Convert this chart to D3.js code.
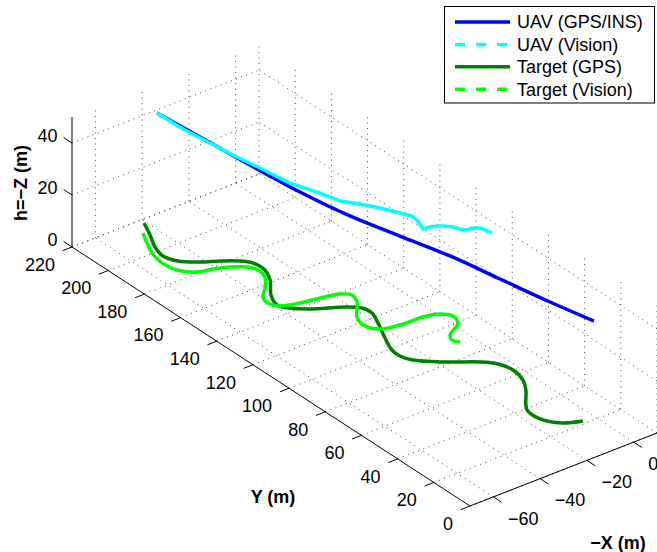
<!DOCTYPE html>
<html><head><meta charset="utf-8">
<script src="https://cdn.jsdelivr.net/npm/d3@7"></script>
<style>
body{margin:0;background:#fff}
text{font-family:"Liberation Sans",Arial,Helvetica,sans-serif;fill:#000}
</style>
</head><body>
<svg id="chart" width="657" height="552"></svg>
<script>
// ---------- data ----------
const xTicks = [-60, -40, -20, 0];
const yTicks = [0, 20, 40, 60, 80, 100, 120, 140, 160, 180, 200, 220];
const zTicks = [0, 20, 40];
const xDomain = [-70, 10];
const yDomain = [0, 220];
const zDomain = [0, 50];

const seriesNames = ["UAV (GPS/INS)", "UAV (Vision)", "Target (GPS)", "Target (Vision)"];
const seriesColors = ["#0000ff", "#00ffff", "#008000", "#00ff00"];

const uavGpsX = [-39.2,-37.6,-34.7,-32.4,-27.8,-22.7,-16.4,-12.5,-7.5,-3.6];
const uavGpsY = [212.8,191.1,167.3,142.6,120.9,99.9,80.3,57.7,36.5,17.3];
const uavGpsZ = [44,44,43,43,42,42,41,41,40,40];

const uavVisX = [-39.2,-38.8,-37.4,-35.0,-33.2,-31.4,-26.4,-24.3,-20.2,-16.5,-13.2,-11.2,-11.7,-13.6,-10.9,-8.6,-6.5,-4.8,-3.7,-2.3,0.2,2.0,2.7,3.2];
const uavVisY = [212.8,198.9,185.9,175.2,163.6,149.4,139.3,130.9,125.2,118.9,112.1,108.0,104.1,98.8,98.4,97.5,95.9,93.7,91.2,89.2,89.0,87.6,84.5,82.4];
const uavVisZ = [44,44,44,43,43,43,42,42,42,42,42,42,42,42,42,42,42,42,42,42,42,42,42,42];

const tgtGpsX = [-40.9,-44.2,-47.8,-49.4,-47.4,-41.9,-36.2,-31.6,-28.2,-27.9,-30.6,-36.5,-39.0,-36.8,-31.8,-21.1,-17.5,-16.9,-19.4,-23.7,-26.8,-27.1,-25.3,-17.0,-8.2,-4.2,-2.6,-4.1,-7.4,-15.3,-15.5,-11.3,-4.9];
const tgtGpsY = [217.8,210.2,202.8,196.4,190.6,185.5,181.9,178.4,174.0,167.8,161.4,153.3,146.7,142.4,137.8,131.2,127.5,122.8,116.2,106.8,99.0,94.2,89.3,81.2,74.4,69.6,63.3,55.9,50.0,39.2,31.7,25.0,21.7];
const tgtGpsZ = [0,0,0,0,0,0,0,0,0,0,0,0,0,0,0,0,0,0,0,0,0,0,0,0,0,0,0,0,0,0,0,0,0];

const tgtVisX = [-45.3,-48.3,-51.1,-52.5,-51.4,-46.9,-41.3,-36.0,-31.4,-29.7,-30.7,-35.2,-39.5,-40.6,-38.6,-32.1,-24.6,-17.7,-14.9,-16.4,-22.6,-24.2,-21.3,-14.4,-4.9,0.9,3.5,2.0,-5.1,-6.6,-5.3];
const tgtVisY = [212.7,206.6,200.2,192.9,186.0,180.8,179.1,176.6,173.1,169.2,164.1,158.2,153.9,149.7,145.6,143.0,141.5,139.5,136.5,131.7,123.8,118.3,112.6,110.6,110.1,108.2,104.4,99.7,94.9,91.9,89.1];
const tgtVisZ = [0,0,0,0,0,0,0,0,0,0,0,0,0,0,0,0,0,0,0,0,0,0,0,0,0,0,0,0,0,0,0];

// ---------- projection (orthographic, MATLAB-like view) ----------
const origin = [470, 506];      // screen position of (xmin, ymin, zmin)
const vecX = [187, -73];        // screen vector spanning full x range
const vecY = [-398, -259];      // screen vector spanning full y range
const vecZ = [0, -130];         // screen vector spanning full z range

const sx = d3.scaleLinear().domain(xDomain).range([0, 1]);
const sy = d3.scaleLinear().domain(yDomain).range([0, 1]);
const sz = d3.scaleLinear().domain(zDomain).range([0, 1]);

function proj(x, y, z) {
  const u = sx(x), v = sy(y), w = sz(z);
  return [origin[0] + u*vecX[0] + v*vecY[0] + w*vecZ[0],
          origin[1] + u*vecX[1] + v*vecY[1] + w*vecZ[1]];
}

const svg = d3.select("#chart");
const FS = 18;
const lineGen = d3.line();

// ---------- grid ----------
const gGrid = svg.append("g").attr("stroke", "#444").attr("stroke-width", 1)
  .attr("stroke-dasharray", "1 4.5").attr("fill", "none");
function seg(a, b) { gGrid.append("path").attr("d", lineGen([a, b])); }
const [x0, x1] = xDomain, [y0, y1] = yDomain, [z0, z1] = zDomain;
// floor
xTicks.forEach(x => seg(proj(x, y0, z0), proj(x, y1, z0)));
yTicks.forEach(y => seg(proj(x0, y, z0), proj(x1, y, z0)));
// back wall y = ymax
xTicks.forEach(x => seg(proj(x, y1, z0), proj(x, y1, z1)));
zTicks.forEach(z => seg(proj(x0, y1, z), proj(x1, y1, z)));
// back wall x = xmax
yTicks.forEach(y => seg(proj(x1, y, z0), proj(x1, y, z1)));
zTicks.forEach(z => seg(proj(x1, y0, z), proj(x1, y1, z)));

// ---------- axes ----------
const gAx = svg.append("g").attr("stroke", "#000").attr("stroke-width", 1).attr("fill", "none");
gAx.append("path").attr("d", lineGen([proj(x0, y1, z0), proj(x0, y1, z1)]));
gAx.append("path").attr("d", lineGen([proj(x0, y1, z0), proj(x0, y0, z0)]));
gAx.append("path").attr("d", lineGen([proj(x0, y0, z0), proj(x1, y0, z0)]));

const tickLen = 10;
function unit(v) { const l = Math.hypot(v[0], v[1]); return [v[0]/l, v[1]/l]; }
const dMinusX = unit([-vecX[0], -vecX[1]]);
const dMinusY = unit([-vecY[0], -vecY[1]]);
const dPlusY = unit(vecY);

const gLab = svg.append("g").attr("font-size", FS);

// y ticks
yTicks.forEach(y => {
  const p = proj(x0, y, z0);
  gAx.append("path").attr("d", lineGen([p, [p[0] + dMinusX[0]*tickLen, p[1] + dMinusX[1]*tickLen]]));
  gLab.append("text").attr("x", p[0] - 17).attr("y", p[1] + 17.5).attr("dy", "0.35em")
    .attr("text-anchor", "end").text(String(y));
});
// x ticks
xTicks.forEach(x => {
  const p = proj(x, y0, z0);
  gAx.append("path").attr("d", lineGen([p, [p[0] + dMinusY[0]*tickLen, p[1] + dMinusY[1]*tickLen]]));
  gLab.append("text").attr("x", p[0] + 14.5).attr("y", p[1] + 21.5).attr("dy", "0.35em")
    .attr("text-anchor", "start").text(String(x).replace("-", "\u2212"));
});
// z ticks
zTicks.forEach(z => {
  const p = proj(x0, y1, z);
  gAx.append("path").attr("d", lineGen([p, [p[0] + dPlusY[0]*tickLen, p[1] + dPlusY[1]*tickLen]]));
  gLab.append("text").attr("x", p[0] - 14.5).attr("y", p[1] - 7).attr("dy", "0.35em")
    .attr("text-anchor", "end").text(String(z));
});

// axis titles
svg.append("text").attr("font-size", FS).attr("font-weight", "bold").attr("text-anchor", "middle")
  .attr("transform", "translate(21,183) rotate(-90)").attr("dy", "0.35em").text("h=\u2212Z (m)");
svg.append("text").attr("font-size", FS).attr("font-weight", "bold").attr("text-anchor", "middle")
  .attr("x", 273).attr("y", 497).attr("dy", "0.35em").text("Y (m)");
svg.append("text").attr("font-size", FS).attr("font-weight", "bold").attr("text-anchor", "middle")
  .attr("x", 618).attr("y", 543).attr("dy", "0.35em").text("\u2212X (m)");

// ---------- series ----------
const series = [
  {x: uavGpsX, y: uavGpsY, z: uavGpsZ, curve: d3.curveCatmullRom},
  {x: uavVisX, y: uavVisY, z: uavVisZ, curve: d3.curveLinear},
  {x: tgtGpsX, y: tgtGpsY, z: tgtGpsZ, curve: d3.curveCatmullRom},
  {x: tgtVisX, y: tgtVisY, z: tgtVisZ, curve: d3.curveCatmullRom}
];
series.forEach((s, i) => {
  const pts = s.x.map((xv, k) => proj(xv, s.y[k], s.z[k]));
  svg.append("path").attr("d", d3.line().curve(s.curve)(pts))
    .attr("fill", "none").attr("stroke", seriesColors[i]).attr("stroke-width", 3.5)
    .attr("stroke-linejoin", "round").attr("stroke-linecap", "butt");
});

// ---------- legend ----------
const lg = svg.append("g");
lg.append("rect").attr("x", 444.5).attr("y", 6.5).attr("width", 210).attr("height", 96.5)
  .attr("fill", "#fff").attr("stroke", "#000").attr("stroke-width", 1);
const dashed = [false, true, false, true];
seriesNames.forEach((name, i) => {
  const cy = 22 + i * 22.4;
  lg.append("line").attr("x1", 455).attr("x2", 510).attr("y1", cy).attr("y2", cy)
    .attr("stroke", seriesColors[i]).attr("stroke-width", 3.5)
    .attr("stroke-dasharray", dashed[i] ? "10 11" : null);
  lg.append("text").attr("x", 517).attr("y", cy).attr("dy", "0.35em").attr("font-size", FS).text(name);
});
</script>
</body></html>
